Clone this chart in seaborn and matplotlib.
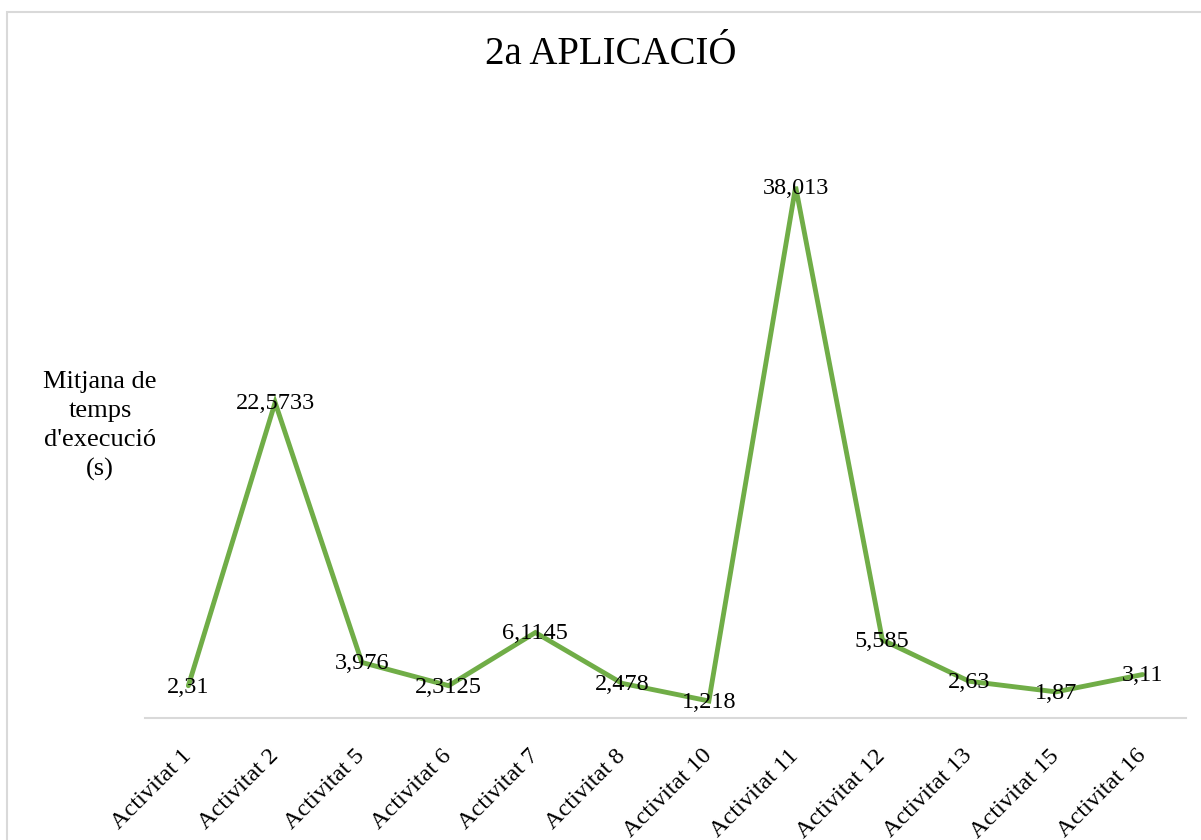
import matplotlib
matplotlib.use("Agg")
import matplotlib.pyplot as plt
from matplotlib.patches import Rectangle
import seaborn as sns
import pandas as pd

categories = ["Activitat 1", "Activitat 2", "Activitat 5", "Activitat 6",
              "Activitat 7", "Activitat 8", "Activitat 10", "Activitat 11",
              "Activitat 12", "Activitat 13", "Activitat 15", "Activitat 16"]
mean_times = [2.31, 22.5733, 3.976, 2.3125, 6.1145, 2.478, 1.218, 38.013,
              5.585, 2.63, 1.87, 3.11]
title_text = "2a APLICACIÓ"
ylabel_text = "Mitjana de\ntemps\nd'execució\n(s)"

sns.set_theme(style="white")
plt.rcParams["font.family"] = ["Liberation Serif", "DejaVu Serif"]

df = pd.DataFrame({"activitat": categories, "temps": mean_times})

fig = plt.figure(figsize=(12.01, 8.4), dpi=100)
ax = fig.add_axes([145 / 1201, 1 - 718 / 840, (1186 - 145) / 1201, (718 - 159) / 840])

sns.lineplot(data=df, x="activitat", y="temps", sort=False, ax=ax,
             color="#70AD47", linewidth=3.5, solid_joinstyle="miter")

ax.set_xlim(-0.5, len(categories) - 0.5)
ax.set_ylim(0, 40)
ax.set_xlabel("")
ax.set_ylabel("")
ax.set_yticks([])
for side in ("top", "right", "left"):
    ax.spines[side].set_visible(False)
ax.spines["bottom"].set_color("#D9D9D9")
ax.spines["bottom"].set_linewidth(1.5)
ax.tick_params(axis="x", length=0, pad=25)
ax.set_xticks(range(len(categories)))
ax.set_xticklabels(categories, rotation=45, ha="right", va="center",
                   rotation_mode="anchor", fontsize=17.5, color="black")

# value labels centred on each point, decimal comma
for i, v in enumerate(mean_times):
    ax.annotate(str(v).replace(".", ","), (i, v), xytext=(0, -1),
                textcoords="offset points", ha="center", va="center",
                fontsize=17.5, color="black")

fig.text(611 / 1201, 1 - 55 / 840, title_text, ha="center", va="center",
         fontsize=28, color="black")
fig.text(100 / 1201, 1 - 426 / 840, ylabel_text, ha="center", va="center",
         fontsize=19, color="black", linespacing=1.42, multialignment="center")

# chart-area frame
fig.patches.append(Rectangle((7 / 1201, -0.1), 1.2, 1 - 12 / 840 + 0.1,
                             transform=fig.transFigure, fill=False,
                             edgecolor="#D9D9D9", linewidth=1.5))

fig.savefig("out.png", dpi=100)
